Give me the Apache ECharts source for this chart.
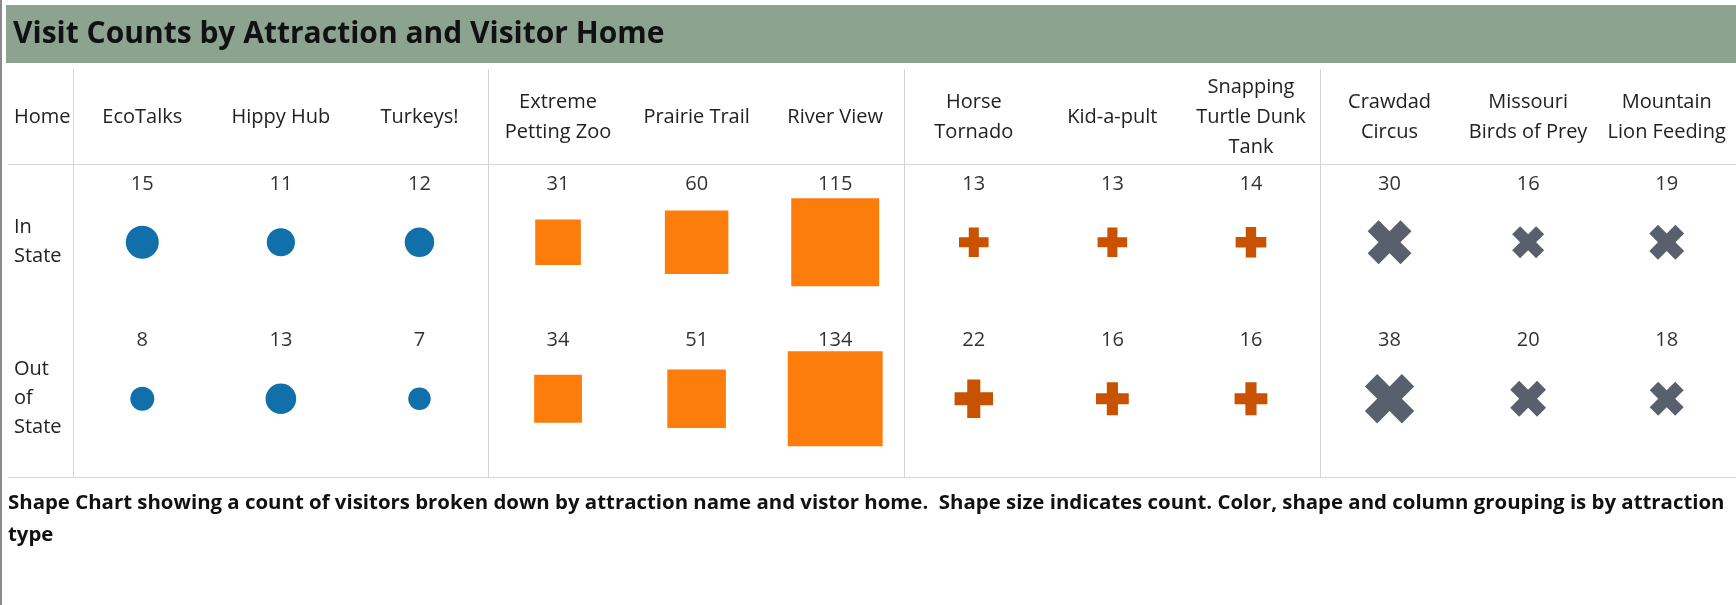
<!DOCTYPE html>
<html>
<head>
<meta charset="utf-8">
<title>Visit Counts by Attraction and Visitor Home</title>
<script src="https://cdn.jsdelivr.net/npm/echarts@6/dist/echarts.min.js"></script>
<style>
  html, body { margin: 0; padding: 0; background: #fff; }
  #chart { width: 1736px; height: 605px; }
</style>
</head>
<body>
<div id="chart"></div>
<script>
// columns, three per attraction type
const attractions = ['EcoTalks', 'Hippy Hub', 'Turkeys!', 'Extreme Petting Zoo', 'Prairie Trail', 'River View',
  'Horse Tornado', 'Kid-a-pult', 'Snapping Turtle Dunk Tank', 'Crawdad Circus', 'Missouri Birds of Prey', 'Mountain Lion Feeding'];
// header tick labels as wrapped in the table
const headerLabels = ['EcoTalks', 'Hippy Hub', 'Turkeys!', 'Extreme\nPetting Zoo', 'Prairie Trail', 'River View',
  'Horse\nTornado', 'Kid-a-pult', 'Snapping\nTurtle Dunk\nTank', 'Crawdad\nCircus', 'Missouri\nBirds of Prey', 'Mountain\nLion Feeding'];
const homes = ['In State', 'Out of State'];
const inState = [15, 11, 12, 31, 60, 115, 13, 13, 14, 30, 16, 19];
const outOfState = [8, 13, 7, 34, 51, 134, 22, 16, 16, 38, 20, 18];
const attractionType = [0, 0, 0, 1, 1, 1, 2, 2, 2, 3, 3, 3];

const FONT = '"Open Sans", "Noto Sans", sans-serif';
const LINE = '#d4d4d4';

// shape / colour per attraction type
const types = [
  { symbol: 'circle', color: '#1170aa', k: 8.5 },
  { symbol: 'rect', color: '#fc7d0b', k: 8.2 },
  { symbol: 'path://M33,0 L67,0 L67,33 L100,33 L100,67 L67,67 L67,100 L33,100 L33,67 L0,67 L0,33 L33,33 Z', color: '#c85200', k: 8.2 },
  { symbol: 'path://M0,25 L25,0 L50,25 L75,0 L100,25 L75,50 L100,75 L75,100 L50,75 L25,100 L0,75 L25,50 Z', color: '#57606c', k: 8.0 }
];

const chart = echarts.init(document.getElementById('chart'));

// lines at the start of each group of three
const groupStart = idx => idx % 3 === 0;

const series = types.map((t, k) => {
  const data = [];
  attractions.forEach((name, i) => {
    if (attractionType[i] !== k) return;
    data.push([i, 0, inState[i]]);
    data.push([i, 1, outOfState[i]]);
  });
  return {
    type: 'scatter',
    xAxisIndex: 1,
    yAxisIndex: 1,
    symbol: t.symbol,
    symbolSize: v => Math.sqrt(v[2]) * t.k,
    itemStyle: { color: t.color, opacity: 1 },
    label: {
      show: true,
      position: 'inside',
      offset: [0, -58],
      formatter: p => p.value[2],
      color: '#333',
      fontSize: 20,
      fontFamily: FONT
    },
    emphasis: { disabled: true },
    data: data
  };
});

const option = {
  animation: false,
  textStyle: { fontFamily: FONT },
  title: [
    {
      text: 'Visit Counts by Attraction and Visitor Home',
      left: 6,
      top: 5,
      backgroundColor: '#8ca48f',
      padding: [13, 8, 13, 7],
      textStyle: { fontSize: 30, fontWeight: 'bold', color: '#111', lineHeight: 32, width: 1715, fontFamily: FONT }
    },
    {
      text: 'Shape Chart showing a count of visitors broken down by attraction name and vistor home.  Shape size indicates count. Color, shape and column grouping is by attraction type',
      left: 8,
      top: 487,
      padding: 0,
      textStyle: { fontSize: 20.4, fontWeight: 'bold', color: '#111', lineHeight: 32, width: 1726, overflow: 'break', fontFamily: FONT }
    }
  ],
  graphic: [
    { type: 'rect', left: 0, top: 0, shape: { width: 2, height: 605 }, style: { fill: '#8a8a8a' } }
  ],
  grid: [
    { left: 73, right: 0, top: 69, height: 95 },    // header
    { left: 73, right: 0, top: 164, bottom: 128 },  // marks
    { left: 8, right: 0, top: 164, bottom: 128 }    // row rules
  ],
  xAxis: [
    {
      gridIndex: 0, type: 'category', data: attractions,
      axisLine: { show: false }, axisTick: { show: false }, axisLabel: { show: false },
      splitLine: { show: true, interval: groupStart, lineStyle: { color: LINE, width: 1 } }
    },
    {
      gridIndex: 1, type: 'category', data: attractions, position: 'top',
      axisLine: { show: false }, axisTick: { show: false },
      axisLabel: {
        interval: 0, margin: 47, verticalAlign: 'middle', lineHeight: 30,
        fontSize: 20, color: '#222', formatter: (v, i) => headerLabels[i]
      },
      splitLine: { show: true, interval: groupStart, lineStyle: { color: LINE, width: 1 } }
    },
    { gridIndex: 2, type: 'value', show: false }
  ],
  yAxis: [
    { gridIndex: 0, type: 'value', show: false },
    {
      gridIndex: 1, type: 'category', data: homes, inverse: true,
      axisLine: { show: false }, axisTick: { show: false },
      axisLabel: {
        margin: 59, align: 'left', lineHeight: 29, fontSize: 20, color: '#222',
        formatter: v => v.split(' ').join('\n')
      },
      splitLine: { show: false }
    },
    {
      gridIndex: 2, type: 'value', min: 0, max: 2, interval: 2,
      axisLine: { show: false }, axisTick: { show: false }, axisLabel: { show: false },
      splitLine: { show: true, lineStyle: { color: LINE, width: 1 } },
      name: 'Home', nameLocation: 'end', nameGap: 47,
      nameTextStyle: { align: 'left', verticalAlign: 'middle', padding: [0, 0, 0, 6], fontSize: 20, color: '#222' }
    }
  ],
  series: series
};

chart.setOption(option);
</script>
</body>
</html>
